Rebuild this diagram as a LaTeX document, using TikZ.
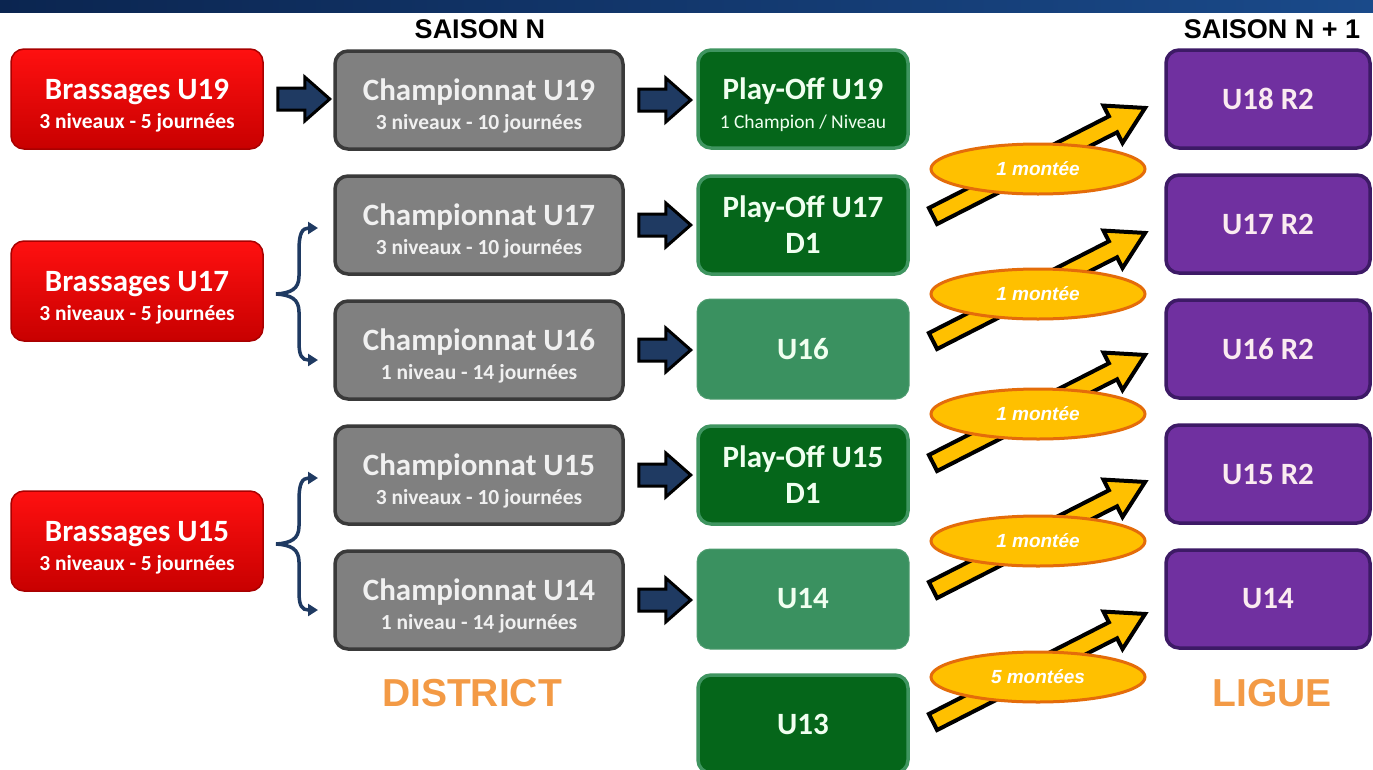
\documentclass[tikz,border=0pt]{standalone}
\usepackage{fontspec}
\setmainfont{Carlito}
\newfontfamily\headf{Liberation Sans}
\usetikzlibrary{calc,shapes.geometric,arrows.meta}
\definecolor{redT}{HTML}{FF1010}
\definecolor{redB}{HTML}{C80000}
\definecolor{redE}{HTML}{A80000}
\definecolor{grayF}{HTML}{808080}
\definecolor{grayE}{HTML}{3A3A3A}
\definecolor{dgreenF}{HTML}{05661A}
\definecolor{dgreenE}{HTML}{3F9560}
\definecolor{mgreenF}{HTML}{3A9160}
\definecolor{purpF}{HTML}{7030A0}
\definecolor{purpE}{HTML}{3D1A66}
\definecolor{navyA}{HTML}{1F3A62}
\definecolor{yelF}{HTML}{FFC000}
\definecolor{orgE}{HTML}{E46C0A}
\definecolor{orgT}{HTML}{F39A45}
\definecolor{banL}{HTML}{0B2550}
\definecolor{banR}{HTML}{1A4A8A}
\newcommand\ttl{\fontsize{31}{29}\selectfont\bfseries}
\newcommand\sbt{\fontsize{21.5}{29}\selectfont\bfseries}
\newcommand\sbr{\fontsize{19.5}{29}\selectfont\mdseries}
\newcommand\upr{\rule{0pt}{33pt}}
\begin{document}
\begin{tikzpicture}[x=1pt,y=-1pt,
  box/.style={rounded corners=13pt, align=center, inner sep=0pt, line width=3.5pt, font=\fontsize{31}{29}\selectfont\bfseries},
  redbox/.style={box, top color=redT, bottom color=redB, draw=redE, line width=1.5pt, text=white, minimum width=252pt, minimum height=100pt},
  graybox/.style={box, fill=grayF, draw=grayE, text=white!94!black, minimum width=288pt, minimum height=98pt},
  dgbox/.style={box, fill=dgreenF, draw=dgreenE, text=white!94!green, minimum width=210pt, minimum height=98pt},
  mgbox/.style={box, fill=mgreenF, draw=mgreenF!90!white, line width=1pt, text=white!94!green, minimum width=212pt, minimum height=100pt},
  purpbox/.style={box, fill=purpF, draw=purpE, text=white!92!purple, minimum width=204pt, minimum height=98pt},
  oval/.style={ellipse, fill=yelF, draw=orgE, line width=3pt, minimum width=214pt, minimum height=50pt, inner sep=0pt, text=white, font=\headf\fontsize{19}{21}\selectfont\bfseries\itshape},
  brace/.style={draw=navyA, line width=3.5pt, {Triangle[length=10pt,width=12pt]}-{Triangle[length=10pt,width=12pt]}},
  heading/.style={font=\headf\fontsize{27}{30}\selectfont\bfseries, text=black},
  big/.style={font=\headf\fontsize{39}{42}\selectfont\bfseries, text=orgT},
  pics/blockarr/.style={code={\draw[fill=navyA, draw=black, line width=3pt, line join=miter] (0,-11) -- (27,-11) -- (27,-22) -- (52,0) -- (27,22) -- (27,11) -- (0,11) -- cycle;}},
  pics/yarr/.style={code={\draw[fill=yelF, draw=black, line width=4pt, line join=miter] (0,-9) -- (202,-9) -- (202,-21) -- (238,0) -- (202,21) -- (202,9) -- (0,9) -- cycle;}}
]
\useasboundingbox (0,0) rectangle (1373,769);
\clip (0,0) rectangle (1373,769);
\fill[white] (0,0) rectangle (1373,769);
\shade[left color=banL, right color=banR] (0,0) rectangle (1373,12);

% headings
\node[heading] (hN) at (480,29) {SAISON N};
\node[heading] (hN1) at (1272,29) {SAISON N + 1};

% red boxes
\node[redbox] (b19) at (137,99) {\upr\ttl Brassages U19\\\sbt 3 niveaux - 5 journées};
\node[redbox] (b17) at (137,291) {\upr\ttl Brassages U17\\\sbt 3 niveaux - 5 journées};
\node[redbox] (b15) at (137,541) {\upr\ttl Brassages U15\\\sbt 3 niveaux - 5 journées};

% gray boxes
\node[graybox] (c19) at (479,100) {\upr\ttl Championnat U19\\\sbt 3 niveaux - 10 journées};
\node[graybox] (c17) at (479,225) {\upr\ttl Championnat U17\\\sbt 3 niveaux - 10 journées};
\node[graybox] (c16) at (479,350) {\upr\ttl Championnat U16\\\sbt 1 niveau - 14 journées};
\node[graybox] (c15) at (479,475) {\upr\ttl Championnat U15\\\sbt 3 niveaux - 10 journées};
\node[graybox] (c14) at (479,600) {\upr\ttl Championnat U14\\\sbt 1 niveau - 14 journées};

% green boxes
\node[dgbox] (p19) at (803,99) {\upr\ttl Play-Off U19\\\sbr 1 Champion / Niveau};
\node[dgbox] (p17) at (803,225) {\ttl Play-Off U17\\[7pt]\ttl D1};
\node[mgbox] (g16) at (803,349) {\ttl U16};
\node[dgbox] (p15) at (803,475) {\ttl Play-Off U15\\[7pt]\ttl D1};
\node[mgbox] (g14) at (803,599) {\ttl U14};
\node[dgbox] (g13) at (803,724) {\ttl U13};

% purple boxes
\node[purpbox] (l18) at (1268,99) {\ttl U18 R2};
\node[purpbox] (l17) at (1268,224) {\ttl U17 R2};
\node[purpbox] (l16) at (1268,349) {\ttl U16 R2};
\node[purpbox] (l15) at (1268,474) {\ttl U15 R2};
\node[purpbox] (l14) at (1268,599) {\ttl U14};

% bottom labels
\node[big] (dist) at (472,693) {DISTRICT};
\node[big] (lig) at (1272,693) {LIGUE};

% block arrows
\pic at ($(b19.east)+(14,0)$) {blockarr};
\foreach \n in {c19,c17,c16,c15,c14}{
  \pic at ($(\n.east)+(14,0)$) {blockarr};
}

% braces
\draw[brace] (318,228) .. controls (302,228) and (299,234) .. (299,250) -- (299,276) .. controls (299,289) and (291,293) .. (276,294) .. controls (291,295) and (299,299) .. (299,312) -- (299,342) .. controls (299,356) and (302,360) .. (318,360);
\draw[brace] (318,478) .. controls (302,478) and (299,484) .. (299,500) -- (299,526) .. controls (299,539) and (291,543) .. (276,544) .. controls (291,545) and (299,549) .. (299,562) -- (299,592) .. controls (299,606) and (302,610) .. (318,610);

% yellow arrows
\coordinate (t1) at (933,216);
\coordinate (t2) at (933,341);
\coordinate (t3) at (933,463);
\coordinate (t4) at (933,590);
\coordinate (t5) at (933,722);
\foreach \t in {t1,t2,t3,t4,t5}{
  \pic[rotate=27] at (\t) {yarr};
}
\node[oval] (e1) at (1038,169) {1 montée};
\node[oval] (e2) at (1038,294) {1 montée};
\node[oval] (e3) at (1038,414) {1 montée};
\node[oval] (e4) at (1038,541) {1 montée};
\node[oval] (e5) at (1038,677) {5 montées};
\end{tikzpicture}
\end{document}
